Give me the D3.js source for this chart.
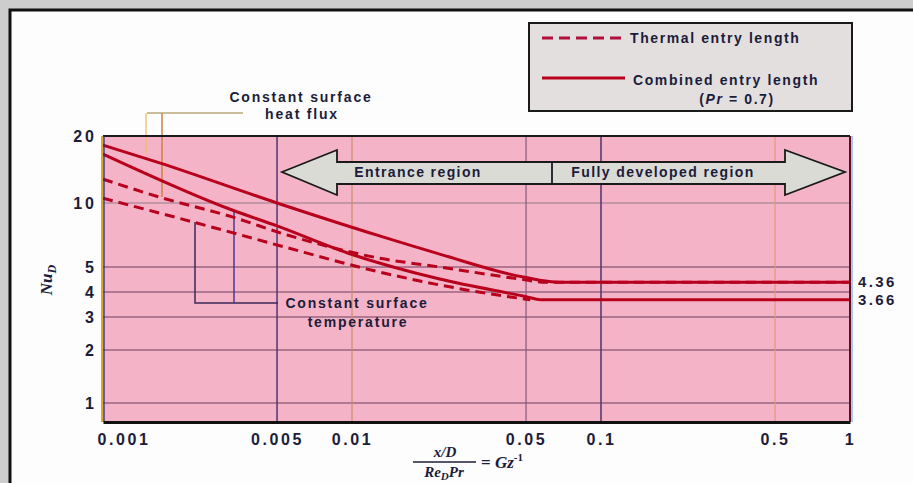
<!DOCTYPE html>
<html>
<head>
<meta charset="utf-8">
<script src="https://cdn.jsdelivr.net/npm/d3@7"></script>
<style>
  html, body { margin: 0; padding: 0; background: #cdcdcd; }
  svg { display: block; }
  .lbl { font-family: "Liberation Sans", Arial, sans-serif; fill: #1c1c3a; font-weight: bold; }
</style>
</head>
<body>
<div id="chart"></div>
<script>
(function(){
  'use strict';

  // x axis: xD/(Re_D Pr) = Gz^-1 ; y axis: Nu_D
  var xTicks = [0.001, 0.005, 0.01, 0.05, 0.1, 0.5, 1];
  var xTickLabels = ['0.001', '0.005', '0.01', '0.05', '0.1', '0.5', '1'];
  var yTicks = [1, 2, 3, 4, 5, 10, 20];

  // combined entry length, constant surface heat flux
  var gzCombinedFlux = [0.001, 0.0017, 0.005, 0.0129, 0.0225, 0.0487, 0.068, 1];
  var nuCombinedFlux = [18.2, 15.1, 10, 7.0, 5.75, 4.57, 4.36, 4.36];
  // thermal entry length, constant surface heat flux
  var gzThermalFlux = [0.001, 0.0017, 0.0033, 0.0055, 0.0129, 0.0225, 0.0473, 0.06, 1];
  var nuThermalFlux = [12.8, 10.6, 8.6, 7.07, 5.5, 5.0, 4.49, 4.36, 4.36];
  // combined entry length, constant surface temperature
  var gzCombinedTemp = [0.001, 0.0033, 0.005, 0.0096, 0.0225, 0.0505, 0.057, 1];
  var nuCombinedTemp = [16.6, 9.27, 7.8, 5.82, 4.49, 3.78, 3.66, 3.66];
  // thermal entry length, constant surface temperature
  var gzThermalTemp = [0.001, 0.0023, 0.005, 0.0129, 0.0225, 0.0432, 0.052];
  var nuThermalTemp = [10.5, 8.14, 6.35, 4.78, 4.26, 3.78, 3.66];

  var asymptotes = [4.36, 3.66];

  var W = 913, H = 483;
  var plotTop = 136, plotBottom = 422, plotLeft = 103, plotRight = 850;

  var svg = d3.select('#chart').append('svg').attr('width', W).attr('height', H);

  // outer scan frame
  svg.append('rect').attr('x', 0).attr('y', 0).attr('width', W).attr('height', H).attr('fill', '#cdcdcd');
  svg.append('rect').attr('x', 10).attr('y', 10).attr('width', W).attr('height', H)
    .attr('fill', '#fdfdfd').attr('stroke', '#111').attr('stroke-width', 3);

  var x = d3.scaleLog().domain([0.001, 1]).range([plotLeft, plotRight]);
  // the scanned figure is not evenly spaced, so the log scale is piecewise
  var y = d3.scaleLog().domain(yTicks).range([403, 350, 317, 292, 267, 203, 136]);

  // plot background
  svg.append('rect').attr('x', plotLeft).attr('y', plotTop)
    .attr('width', plotRight - plotLeft).attr('height', plotBottom - plotTop)
    .attr('fill', '#f5b3c7');

  // horizontal grid
  svg.append('g').selectAll('line').data(yTicks.filter(function(d){ return d < 20; })).enter().append('line')
    .attr('x1', plotLeft).attr('x2', plotRight)
    .attr('y1', function(d){ return y(d); }).attr('y2', function(d){ return y(d); })
    .attr('stroke', function(d){ return d === 10 ? '#9c8090' : '#7a4c68'; })
    .attr('stroke-opacity', 0.75).attr('stroke-width', 1.3);

  // vertical grid
  var vColors = {0.005: '#5a3c7a', 0.01: '#cf8c6c', 0.05: '#86587c', 0.1: '#5a3a6e', 0.5: '#e39a74'};
  svg.append('g').selectAll('line').data(xTicks.filter(function(d){ return vColors[d]; })).enter().append('line')
    .attr('x1', function(d){ return x(d); }).attr('x2', function(d){ return x(d); })
    .attr('y1', plotTop).attr('y2', plotBottom)
    .attr('stroke', function(d){ return vColors[d]; })
    .attr('stroke-width', function(d){ return (d === 0.005 || d === 0.1) ? 1.6 : 1.2; });

  // region arrow
  var arrow = svg.append('g');
  arrow.append('path')
    .attr('d', 'M282,172 L337,150 L337,162 L785,162 L785,150 L845,172 L785,195 L785,184 L337,184 L337,195 Z')
    .attr('fill', '#dbdbd6').attr('stroke', '#1a1a1a').attr('stroke-width', 1.8);
  arrow.append('line').attr('x1', 552).attr('x2', 552).attr('y1', 162).attr('y2', 184)
    .attr('stroke', '#1a1a2a').attr('stroke-width', 1.8);
  arrow.append('text').attr('class', 'lbl').attr('x', 418).attr('y', 177)
    .attr('text-anchor', 'middle').style('font-size', '14px').style('letter-spacing', '1.4px')
    .text('Entrance region');
  arrow.append('text').attr('class', 'lbl').attr('x', 663).attr('y', 177)
    .attr('text-anchor', 'middle').style('font-size', '14px').style('letter-spacing', '1.4px')
    .text('Fully developed region');

  // leader lines for annotations
  var lead = svg.append('g').attr('fill', 'none');
  lead.append('path').attr('d', 'M147,113 L243,113').attr('stroke', '#b8a878').attr('stroke-width', 1.3);
  lead.append('path').attr('d', 'M146,113 L146,154').attr('stroke', '#f0c060').attr('stroke-width', 1.3);
  lead.append('path').attr('d', 'M162,113 L162,197').attr('stroke', '#d08040').attr('stroke-width', 1.5);
  lead.append('path').attr('d', 'M195,222 L195,303 L278,303').attr('stroke', '#3a2a5a').attr('stroke-width', 1.5);
  lead.append('path').attr('d', 'M234,210 L234,303').attr('stroke', '#4a3a8a').attr('stroke-width', 1.5);

  // curves
  var line = d3.line()
    .x(function(d){ return x(d[0]); })
    .y(function(d){ return y(d[1]); })
    .curve(d3.curveMonotoneX);

  var series = [
    {gz: gzThermalTemp, nu: nuThermalTemp, dash: '10,6'},
    {gz: gzThermalFlux, nu: nuThermalFlux, dash: '10,6'},
    {gz: gzCombinedTemp, nu: nuCombinedTemp, dash: null},
    {gz: gzCombinedFlux, nu: nuCombinedFlux, dash: null}
  ];

  svg.append('g').selectAll('path').data(series).enter().append('path')
    .attr('d', function(s){ return line(s.gz.map(function(g, i){ return [g, s.nu[i]]; })); })
    .attr('fill', 'none')
    .attr('stroke', '#b8001c')
    .attr('stroke-width', 3)
    .attr('stroke-dasharray', function(s){ return s.dash; });

  // plot borders
  svg.append('line').attr('x1', plotLeft).attr('x2', plotRight).attr('y1', plotTop).attr('y2', plotTop)
    .attr('stroke', '#1a1a1a').attr('stroke-width', 2);
  svg.append('line').attr('x1', plotRight).attr('x2', plotRight).attr('y1', plotTop).attr('y2', plotBottom)
    .attr('stroke', '#5a1020').attr('stroke-width', 2);
  svg.append('line').attr('x1', plotRight + 2).attr('x2', plotRight + 2).attr('y1', plotTop).attr('y2', plotBottom)
    .attr('stroke', '#6aa8e8').attr('stroke-width', 1.2);
  svg.append('line').attr('x1', plotLeft - 1).attr('x2', plotLeft - 1).attr('y1', plotTop).attr('y2', plotBottom)
    .attr('stroke', '#e0a820').attr('stroke-width', 2);
  svg.append('line').attr('x1', plotLeft + 1).attr('x2', plotLeft + 1).attr('y1', plotTop).attr('y2', plotBottom)
    .attr('stroke', '#2a2a9a').attr('stroke-width', 1.3);

  // x axis
  var xAxis = svg.append('g').attr('transform', 'translate(0,' + plotBottom + ')')
    .call(d3.axisBottom(x).tickValues(xTicks).tickSize(0).tickPadding(12)
      .tickFormat(function(d, i){ return xTickLabels[i]; }));
  xAxis.select('.domain').attr('stroke', '#111').attr('stroke-width', 3);
  xAxis.selectAll('text').attr('class', 'lbl')
    .style('font-size', '16px').style('letter-spacing', '2.6px')
    .attr('text-anchor', function(d, i){ return i === 0 ? 'start' : 'middle'; })
    .attr('dx', function(d, i){ return i === 0 ? -6 : 0; });

  // y axis
  var yAxis = svg.append('g').attr('transform', 'translate(' + (plotLeft - 6) + ',0)')
    .call(d3.axisLeft(y).tickValues(yTicks).tickSize(0).tickPadding(0).tickFormat(d3.format('d')));
  yAxis.select('.domain').remove();
  yAxis.selectAll('text').attr('class', 'lbl')
    .style('font-size', '16px').style('letter-spacing', '3px');

  // asymptote labels
  svg.append('g').selectAll('text').data(asymptotes).enter().append('text')
    .attr('class', 'lbl').attr('x', plotRight + 8).attr('y', function(d){ return y(d) + 5; })
    .style('font-size', '15px').style('letter-spacing', '2.4px')
    .text(function(d){ return d.toFixed(2); });

  // axis titles
  var ylab = svg.append('text').attr('transform', 'translate(52,280) rotate(-90)')
    .attr('text-anchor', 'middle').style('font-family', '"Liberation Serif", serif')
    .style('font-style', 'italic').style('font-weight', 'bold').style('font-size', '17px').attr('fill', '#1c1c3a');
  ylab.append('tspan').text('Nu');
  ylab.append('tspan').attr('dy', 4).style('font-size', '12px').text('D');

  var xt = svg.append('g').style('font-family', '"Liberation Serif", serif')
    .style('font-style', 'italic').style('font-weight', 'bold').attr('fill', '#1c1c3a');
  xt.append('text').attr('x', 445).attr('y', 457).attr('text-anchor', 'middle')
    .style('font-size', '15px').text('x/D');
  xt.append('line').attr('x1', 413).attr('x2', 476).attr('y1', 462).attr('y2', 462)
    .attr('stroke', '#1c1c3a').attr('stroke-width', 1.5);
  var den = xt.append('text').attr('x', 444).attr('y', 477).attr('text-anchor', 'middle')
    .style('font-size', '15px');
  den.append('tspan').text('Re');
  den.append('tspan').attr('dy', 3).style('font-size', '11px').text('D');
  den.append('tspan').attr('dy', -3).text('Pr');
  var gz = xt.append('text').attr('x', 481).attr('y', 468).style('font-size', '17px');
  gz.append('tspan').style('font-style', 'normal').text('= ');
  gz.append('tspan').text('Gz');
  gz.append('tspan').attr('dy', -7).style('font-size', '11px').style('font-style', 'normal').text('-1');

  // annotations
  var ann = svg.append('g').attr('text-anchor', 'middle');
  ann.append('text').attr('class', 'lbl').attr('x', 301).attr('y', 102)
    .style('font-size', '14px').style('letter-spacing', '1.8px').text('Constant surface');
  ann.append('text').attr('class', 'lbl').attr('x', 302).attr('y', 119)
    .style('font-size', '14px').style('letter-spacing', '1.8px').text('heat flux');
  ann.append('text').attr('class', 'lbl').attr('x', 357).attr('y', 308)
    .style('font-size', '14px').style('letter-spacing', '1.8px').text('Constant surface');
  ann.append('text').attr('class', 'lbl').attr('x', 358).attr('y', 327)
    .style('font-size', '14px').style('letter-spacing', '1.8px').text('temperature');

  // legend
  var leg = svg.append('g');
  leg.append('rect').attr('x', 529).attr('y', 23).attr('width', 323).attr('height', 88)
    .attr('fill', '#e3dfdf').attr('stroke', '#1a1a1a').attr('stroke-width', 2);
  leg.append('line').attr('x1', 542).attr('x2', 627).attr('y1', 38).attr('y2', 38)
    .attr('stroke', '#b0103a').attr('stroke-width', 3).attr('stroke-dasharray', '11,6');
  leg.append('line').attr('x1', 542).attr('x2', 625).attr('y1', 78).attr('y2', 78)
    .attr('stroke', '#b8001c').attr('stroke-width', 3);
  leg.append('text').attr('class', 'lbl').attr('x', 630).attr('y', 43)
    .style('font-size', '14px').style('letter-spacing', '1.6px').text('Thermal entry length');
  leg.append('text').attr('class', 'lbl').attr('x', 633).attr('y', 85)
    .style('font-size', '14px').style('letter-spacing', '1.6px').text('Combined entry length');
  var pr = leg.append('text').attr('class', 'lbl').attr('x', 737).attr('y', 104)
    .attr('text-anchor', 'middle').style('font-size', '14px').style('letter-spacing', '1.6px');
  pr.append('tspan').text('(');
  pr.append('tspan').style('font-style', 'italic').text('Pr');
  pr.append('tspan').text(' = 0.7)');
})();
</script>
</body>
</html>
